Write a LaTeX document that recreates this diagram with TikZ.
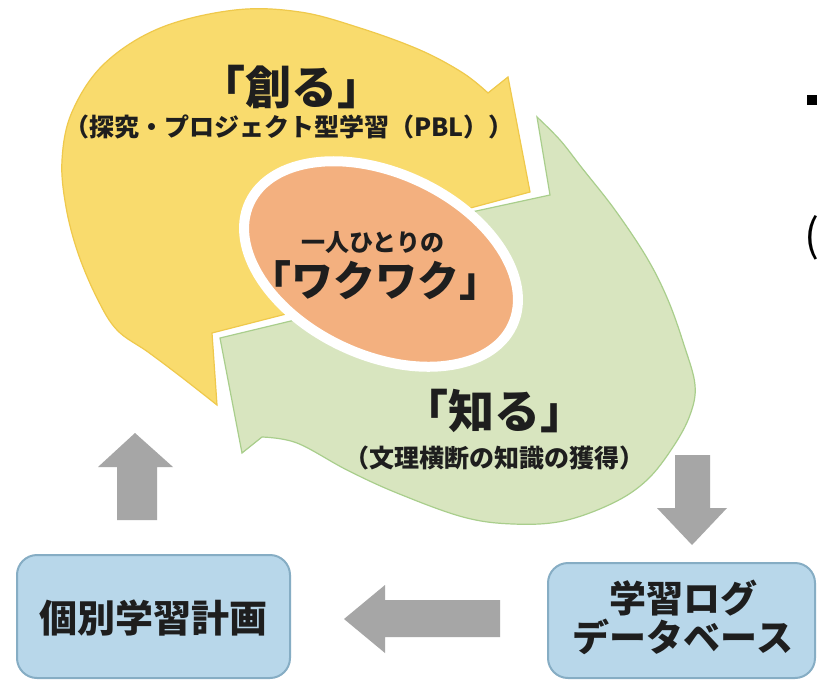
\documentclass[tikz,border=0pt]{standalone}
\usepackage{fontspec}
\setmainfont{Noto Sans CJK JP}
\definecolor{yel}{HTML}{F9DB6D}
\definecolor{yelE}{HTML}{EFC94C}
\definecolor{grn}{HTML}{D8E5BF}
\definecolor{grnE}{HTML}{A9CE8C}
\definecolor{org}{HTML}{F3B07F}
\definecolor{blu}{HTML}{B8D7EA}
\definecolor{bluE}{HTML}{86ADC4}
\definecolor{gry}{HTML}{A6A6A6}
\definecolor{txt}{HTML}{1E1E1E}
\tikzset{
  lbl/.style={inner sep=0pt, text=txt, align=center},
  fbig/.style={lbl, font=\fontsize{23pt}{27pt}\selectfont\bfseries},
  fsub/.style={lbl, font=\fontsize{12.5pt}{15pt}\selectfont\bfseries},
  fbox/.style={lbl, font=\fontsize{19pt}{21pt}\selectfont\bfseries},
  blkarrow/.style={fill=gry, draw=none},
  infobox/.style={fill=blu, draw=bluE, line width=1pt, rounded corners=10pt},
}
\begin{document}
\begin{tikzpicture}[x=0.5pt,y=-0.5pt]
\useasboundingbox (0,0) rectangle (817,680);
\fill[white] (0,0) rectangle (817,680);
% yellow curved arrow
\filldraw[fill=yel, draw=yelE, line width=0.6pt]
  (530,192) -- plot[smooth, tension=0.6] coordinates {(463,210) (400,200) (310,222) (275,268) (290,313)}
  -- (212,333)
  -- plot[smooth, tension=0.6] coordinates {(217,405) (180,376) (148,352) (117,330) (97,298) (78,253) (66,207) (62,160) (72,112) (104,64) (160,28) (235,10) (300,12) (360,28) (420,50) (463,73) (488,93)}
  -- (508,77) -- cycle;
% green curved arrow
\filldraw[fill=grn, draw=grnE, line width=0.6pt]
  (220,338) -- plot[smooth, tension=0.6] coordinates {(295,320) (400,330) (480,270) (467,213)}
  -- (550,195)
  -- plot[smooth, tension=0.6] coordinates {(537,117) (560,140) (582,168) (615,210) (647,258) (668,300) (684,345) (695,385) (690,415) (673,447) (647,480) (613,503) (563,521) (513,524) (463,517) (397,493) (347,470) (297,443) (262,437)}
  -- (242,453) -- cycle;
% centre ellipse
\filldraw[fill=org, draw=white, line width=5pt, rotate around={-25:(381,264)}]
  (381,264) ellipse [x radius=72.5pt, y radius=45.5pt];
% texts
\node[fbig] (tsukuru) at (291,87) {「創る」};
\node[fsub] (tsukurusub) at (289,127) {（探究・プロジェクト型学習（PBL））};
\node[lbl, font=\fontsize{12pt}{14pt}\selectfont\bfseries] (hitori) at (373,243) {一人ひとりの};
\node[lbl, font=\fontsize{21pt}{24pt}\selectfont\bfseries] (waku) at (375,281) {「ワクワク」};
\node[fbig] (shiru) at (494,411) {「知る」};
\node[fsub] (shirusub) at (494,458) {（文理横断の知識の獲得）};
% boxes
\draw[infobox] (17,555) rectangle (290,678);
\node[fbox] (plan) at (153,618) {個別学習計画};
\draw[infobox] (548,563) rectangle (815,678);
\node[fbox, font=\fontsize{18.5pt}{19.5pt}\selectfont\bfseries] (logdb) at (683,617) {学習ログ\\データベース};
% block arrows
\fill[blkarrow] (117,520) -- (117,467) -- (98,467) -- (135,433) -- (173,467) -- (157,467) -- (157,520) -- cycle;
\fill[blkarrow] (675,455) -- (675,508) -- (657,508) -- (692,545) -- (727,508) -- (710,508) -- (710,455) -- cycle;
\fill[blkarrow] (500,600) -- (385,600) -- (385,585) -- (344,619) -- (385,653) -- (385,637) -- (500,637) -- cycle;
% cut-off items at right edge
\fill[black] (807,95) rectangle (817,105);
\node[lbl, anchor=west, text=black, font=\fontsize{22pt}{24pt}\selectfont] (paren) at (804,238) {(};
\end{tikzpicture}
\end{document}
